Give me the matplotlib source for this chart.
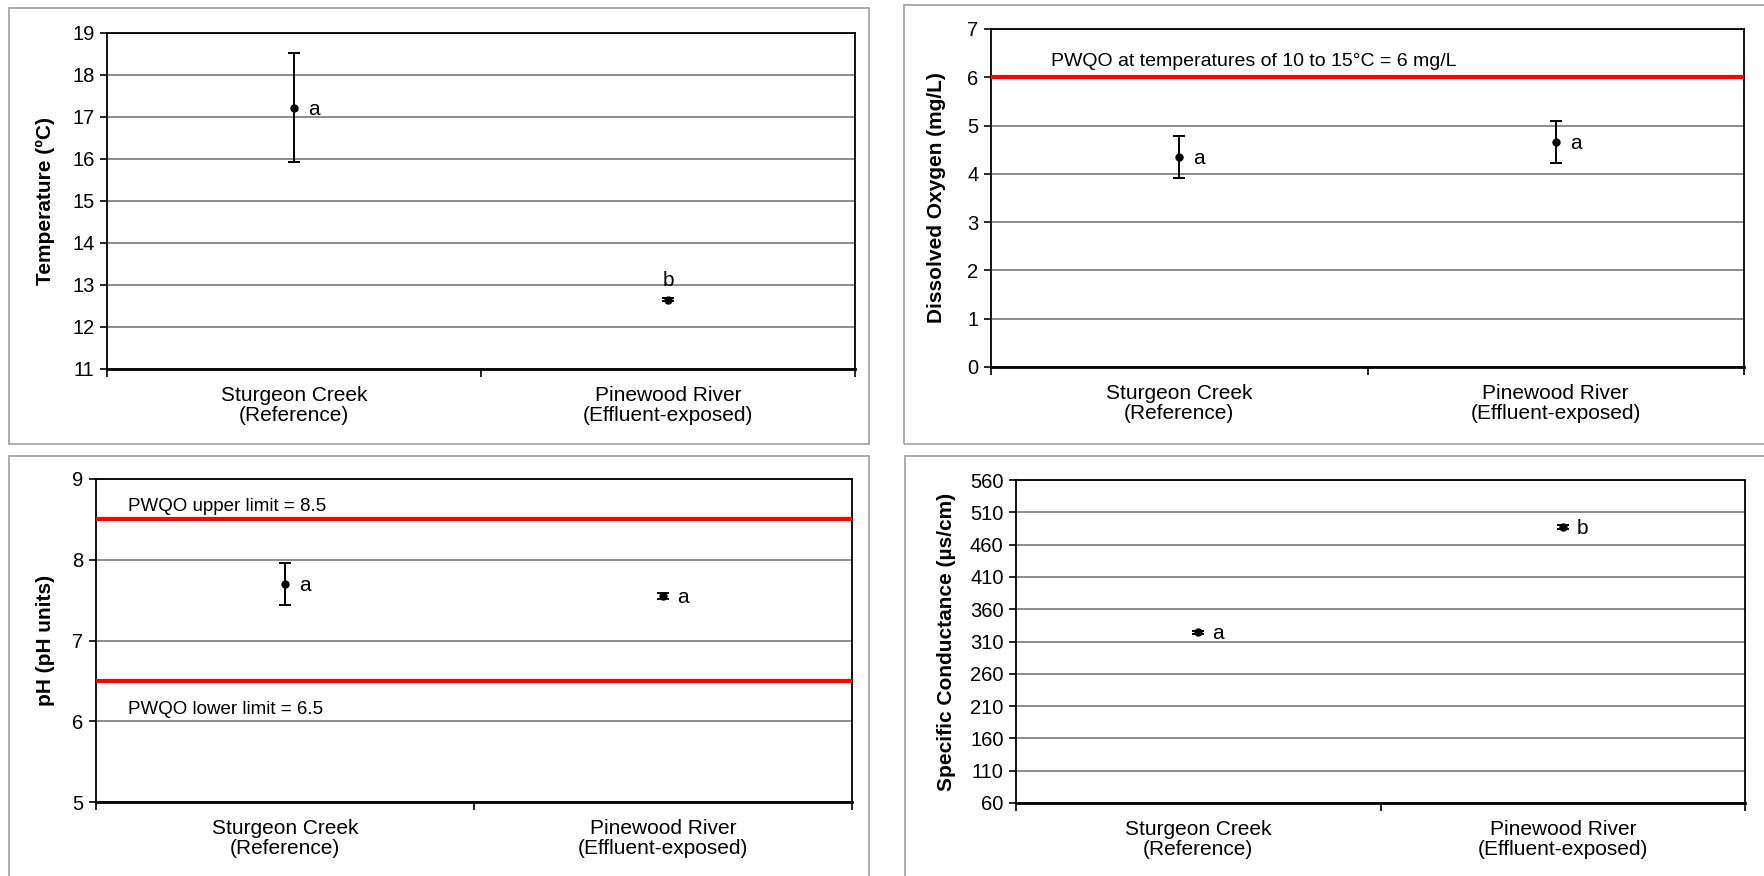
import matplotlib
matplotlib.use("Agg")
import matplotlib.pyplot as plt
from matplotlib.patches import Rectangle

plt.rcParams['font.family'] = ['Liberation Sans', 'DejaVu Sans']

# data
sites = ["Sturgeon Creek\n(Reference)", "Pinewood River\n(Effluent-exposed)"]

temp_mean = [17.22, 12.65]
temp_err = [1.30, 0.03]
temp_letters = ["a", "b"]

do_mean = [4.35, 4.66]
do_err = [0.43, 0.43]
do_letters = ["a", "a"]

ph_mean = [7.70, 7.55]
ph_err = [0.26, 0.04]
ph_letters = ["a", "a"]

cond_mean = [324, 487]
cond_err = [3, 3]
cond_letters = ["a", "b"]

do_limit = 6
ph_upper = 8.5
ph_lower = 6.5

W, H = 1764, 876
fig = plt.figure(figsize=(W / 100, H / 100), dpi=100)


def px_axes(l, t, r, b):
    return fig.add_axes([l / W, 1 - b / H, (r - l) / W, (b - t) / H])


def frame(l, t, r, b):
    fig.patches.append(Rectangle((l / W, 1 - b / H), (r - l) / W, (b - t) / H,
                                 transform=fig.transFigure, fill=False,
                                 edgecolor='#a6a6a6', lw=1.3))


def panel(ax, mean, err, letters, ylim, step, ylabel, label_off, above=()):
    x = [1, 2]
    ax.errorbar(x, mean, yerr=err, fmt='o', color='black', ms=5,
                elinewidth=1.4, capsize=4, capthick=1.4, zorder=5)
    for i, (xi, yi) in enumerate(zip(x, mean)):
        if i in above:
            ax.annotate(letters[i], (xi, yi), xytext=(0, 7), textcoords='offset points',
                        ha='center', va='bottom', fontsize=15)
        else:
            ax.annotate(letters[i], (xi, yi), xytext=(10, -1), textcoords='offset points',
                        ha='left', va='center', fontsize=15)
    ax.set_xlim(0.5, 2.5)
    ax.set_ylim(*ylim)
    ticks = list(range(ylim[0], ylim[1] + 1, step))
    ax.set_yticks(ticks)
    ax.set_xticks(x)
    ax.set_xticklabels(sites, fontsize=15, linespacing=1.1)
    ax.set_xticks([0.5, 1.5, 2.5], minor=True)
    ax.tick_params(axis='x', which='major', length=0, pad=12)
    ax.tick_params(axis='x', which='minor', length=6, width=1.2, direction='out')
    ax.tick_params(axis='y', length=5, width=1.2, labelsize=14.5, pad=4)
    ax.grid(axis='y', color='#8c8c8c', lw=1.4)
    ax.set_axisbelow(True)
    for s in ax.spines.values():
        s.set_color('black')
        s.set_linewidth(1.3)
    ax.spines['bottom'].set_linewidth(2)
    ax.set_ylabel(ylabel, fontsize=15, fontweight='bold')
    w = ax.get_position().width * W
    ax.yaxis.set_label_coords(-label_off / w, 0.5)


frame(9, 8, 869, 444)
frame(904, 5, 1770, 444)
frame(9, 456, 869, 890)
frame(905, 456, 1770, 890)

ax1 = px_axes(107, 33, 855, 369)
panel(ax1, temp_mean, temp_err, temp_letters, (11, 19), 1,
      "Temperature (ºC)", 52, above=(1,))

ax2 = px_axes(991, 29, 1744, 367)
panel(ax2, do_mean, do_err, do_letters, (0, 7), 1,
      "Dissolved Oxygen (mg/L)", 45)
ax2.axhline(do_limit, color='#ff0000', lw=3, zorder=4)
ax2.text(0.08, 0.905, "PWQO at temperatures of 10 to 15°C = 6 mg/L",
         transform=ax2.transAxes, fontsize=14, va='center')

ax3 = px_axes(96, 479, 852, 802)
panel(ax3, ph_mean, ph_err, ph_letters, (5, 9), 1,
      "pH (pH units)", 41)
ax3.axhline(ph_upper, color='#ff0000', lw=3, zorder=4)
ax3.axhline(ph_lower, color='#ff0000', lw=3, zorder=4)
ax3.text(0.042, 0.915, "PWQO upper limit = 8.5", transform=ax3.transAxes,
         fontsize=13.5, va='center')
ax3.text(0.042, 0.285, "PWQO lower limit = 6.5", transform=ax3.transAxes,
         fontsize=13.5, va='center')

ax4 = px_axes(1016, 480, 1745, 803)
panel(ax4, cond_mean, cond_err, cond_letters, (60, 560), 50,
      "Specific Conductance (µs/cm)", 60)

fig.savefig("out.png", dpi=100)
